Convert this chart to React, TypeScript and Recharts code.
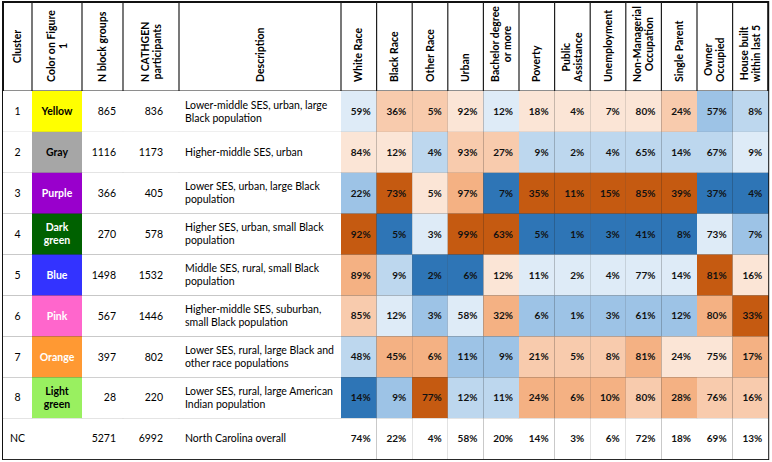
import React from 'react';
import { ScatterChart, Scatter, XAxis, YAxis, ReferenceLine, ReferenceArea } from 'recharts';

/* ── Data ─────────────────────────────────────────────────────────────────── */

const clusters = ['1', '2', '3', '4', '5', '6', '7', '8', 'NC'];
const figureColors = ['Yellow', 'Gray', 'Purple', 'Dark green', 'Blue', 'Pink', 'Orange', 'Light green', ''];
const nBlockGroups = [865, 1116, 366, 270, 1498, 567, 397, 28, 5271];
const nParticipants = [836, 1173, 405, 578, 1532, 1446, 802, 220, 6992];
const descriptions = [
  'Lower-middle SES, urban, large\nBlack population',
  'Higher-middle SES, urban',
  'Lower SES, urban, large Black\npopulation',
  'Higher SES, urban, small Black\npopulation',
  'Middle SES, rural, small Black\npopulation',
  'Higher-middle SES, suburban,\nsmall Black population',
  'Lower SES, rural, large Black and\nother race populations',
  'Lower SES, rural, large American\nIndian population',
  'North Carolina overall',
];

const infoHeaders = ['Cluster', 'Color on Figure\n1', 'N block groups', 'N CATHGEN\nparticipants', 'Description'];
const variableHeaders = [
  'White Race', 'Black Race', 'Other Race', 'Urban', 'Bachelor degree\nor more', 'Poverty',
  'Public\nAssistance', 'Unemployment', 'Non-Managerial\nOccupation', 'Single Parent',
  'Owner\nOccupied', 'House built\nwithin last 5',
];

// percentages, rows 1..8 then NC
const whiteRace = [59, 84, 22, 92, 89, 85, 48, 14, 74];
const blackRace = [36, 12, 73, 5, 9, 12, 45, 9, 22];
const otherRace = [5, 4, 5, 3, 2, 3, 6, 77, 4];
const urban = [92, 93, 97, 99, 6, 58, 11, 12, 58];
const bachelor = [12, 27, 7, 63, 12, 32, 9, 11, 20];
const poverty = [18, 9, 35, 5, 11, 6, 21, 24, 14];
const publicAssistance = [4, 2, 11, 1, 2, 1, 5, 6, 3];
const unemployment = [7, 4, 15, 3, 4, 3, 8, 10, 6];
const nonManagerial = [80, 65, 85, 41, 77, 61, 81, 80, 72];
const singleParent = [24, 14, 39, 8, 14, 12, 24, 28, 18];
const ownerOccupied = [57, 67, 37, 73, 81, 80, 75, 76, 69];
const houseBuilt = [8, 9, 4, 7, 16, 33, 17, 16, 13];

// shading rank of each cluster within a column (-4 lowest … +4 highest, 0 = none)
const whiteShade = [-1, 1, -3, 4, 3, 2, -2, -4, 0];
const blackShade = [2, 1, 4, -4, -2, -1, 3, -3, 0];
const otherShade = [2, -2, 1, -1, -4, -3, 3, 4, 0];
const urbanShade = [1, 2, 3, 4, -4, -1, -3, -2, 0];
const bachelorShade = [-1, 2, -4, 4, 1, 3, -3, -2, 0];
const povertyShade = [1, -2, 4, -4, -1, -3, 2, 3, 0];
const publicShade = [1, -2, 4, -4, -1, -3, 2, 3, 0];
const unemploymentShade = [1, -2, 4, -4, -1, -3, 2, 3, 0];
const nonManagerialShade = [1, -2, 4, -4, -1, -3, 3, 2, 0];
const singleParentShade = [2, -2, 4, -4, -1, -3, 1, 3, 0];
const ownerShade = [-3, -2, -4, -1, 4, 3, 1, 2, 0];
const houseShade = [-2, -1, -4, -3, 1, 4, 3, 2, 0];

const variableValues = [
  whiteRace, blackRace, otherRace, urban, bachelor, poverty,
  publicAssistance, unemployment, nonManagerial, singleParent, ownerOccupied, houseBuilt,
];
const variableShades = [
  whiteShade, blackShade, otherShade, urbanShade, bachelorShade, povertyShade,
  publicShade, unemploymentShade, nonManagerialShade, singleParentShade, ownerShade, houseShade,
];

/* ── Styles / layout ──────────────────────────────────────────────────────── */

const W = 772;
const H = 462;
const FONT = 'Lato, "Open Sans", sans-serif';
const GRID = '#1f1f1f';

const SHADE_FILL: Record<number, string> = {
  [-4]: '#2e75b6', [-3]: '#9dc3e6', [-2]: '#bdd7ee', [-1]: '#deebf7',
  0: '#ffffff', 1: '#fbe5d6', 2: '#f8cbad', 3: '#f4b183', 4: '#c55a11',
};

const SWATCH: Record<string, { fill: string; text: string }> = {
  Yellow: { fill: '#ffff00', text: '#000000' },
  Gray: { fill: '#a6a6a6', text: '#000000' },
  Purple: { fill: '#9900cc', text: '#ffffff' },
  'Dark green': { fill: '#006100', text: '#ffffff' },
  Blue: { fill: '#3333ff', text: '#ffffff' },
  Pink: { fill: '#ff66cc', text: '#ffffff' },
  Orange: { fill: '#ff9933', text: '#ffffff' },
  'Light green': { fill: '#99f060', text: '#000000' },
};

const INFO_EDGES = [3, 32, 82, 123, 179, 341];
const HEAT_LEFT = 341;
const HEAT_W = 35.6;
const COL_EDGES = [...INFO_EDGES, ...variableHeaders.map((_, i) => HEAT_LEFT + (i + 1) * HEAT_W)];
const HEADER_TOP = 2;
const HEADER_BOTTOM = 91;
const ROW_H = 40.9;
const ROW_EDGES = [HEADER_TOP, HEADER_BOTTOM, ...clusters.map((_, i) => HEADER_BOTTOM + (i + 1) * ROW_H)];
const TABLE_RIGHT = COL_EDGES[COL_EDGES.length - 1];
const TABLE_BOTTOM = ROW_EDGES[ROW_EDGES.length - 1];

let measureCtx: CanvasRenderingContext2D | null = null;
function textWidth(s: string, font: string) {
  if (!measureCtx) measureCtx = document.createElement('canvas').getContext('2d');
  if (!measureCtx) return s.length * 6;
  measureCtx.font = font;
  return measureCtx.measureText(s).width;
}

type CellDatum = {
  x: number;
  y: number;
  w: number;
  h: number;
  kind: 'header' | 'text';
  lines: string[];
  fill: string;
  color: string;
  bold: boolean;
  size: number;
  align: 'start' | 'middle' | 'end';
  pad: number;
  anchor?: 'bottom' | 'center';
};

function cellBox(col: number, row: number) {
  const x0 = COL_EDGES[col];
  const x1 = COL_EDGES[col + 1];
  const y0 = ROW_EDGES[row];
  const y1 = ROW_EDGES[row + 1];
  return { x: (x0 + x1) / 2, y: (y0 + y1) / 2, w: x1 - x0, h: y1 - y0 };
}

const cells: CellDatum[] = [];

[...infoHeaders, ...variableHeaders].forEach((label, c) => {
  cells.push({
    ...cellBox(c, 0), kind: 'header', lines: label.split('\n'), fill: '#ffffff', color: '#000000',
    bold: true, size: 10.5, align: 'middle', pad: 0, anchor: c === 0 ? 'center' : 'bottom',
  });
});

clusters.forEach((cl, r) => {
  const row = r + 1;
  const base = { kind: 'text' as const, color: '#000000', fill: '#ffffff', bold: false, size: 10.5 };
  cells.push({ ...cellBox(0, row), ...base, lines: [cl], align: 'middle', pad: 0 });
  const sw = SWATCH[figureColors[r]];
  cells.push({
    ...cellBox(1, row), ...base, lines: figureColors[r] ? figureColors[r].split(' ') : [],
    fill: sw ? sw.fill : '#ffffff', color: sw ? sw.text : '#000000', bold: true, align: 'middle', pad: 0,
  });
  cells.push({ ...cellBox(2, row), ...base, lines: [String(nBlockGroups[r])], align: 'end', pad: 7 });
  cells.push({ ...cellBox(3, row), ...base, lines: [String(nParticipants[r])], align: 'end', pad: 16 });
  cells.push({ ...cellBox(4, row), ...base, lines: descriptions[r].split('\n'), align: 'start', pad: 6 });
  variableValues.forEach((vals, v) => {
    cells.push({
      ...cellBox(5 + v, row), ...base, lines: [`${vals[r]}%`], fill: SHADE_FILL[variableShades[v][r]],
      color: '#111111', bold: true, size: 10, align: 'end', pad: 6,
    });
  });
});

/* ── Cell shape ───────────────────────────────────────────────────────────── */

function TableCell(props: any) {
  const { cx, cy, payload } = props;
  const d = payload as CellDatum;
  const x0 = cx - d.w / 2;
  const y0 = cy - d.h / 2;
  const font = `${d.bold ? 'bold ' : ''}${d.size}px ${FONT}`;

  if (d.kind === 'header') {
    const lineH = 12;
    const longest = Math.max(...d.lines.map((l) => textWidth(l, font)));
    const ay = d.anchor === 'center' ? cy : y0 + d.h - 9 - longest / 2;
    return (
      <g transform={`translate(${cx},${ay}) rotate(-90)`}>
        <text textAnchor="middle" fontFamily={FONT} fontSize={d.size} fontWeight="bold" fill={d.color}>
          {d.lines.map((l, i) => (
            <tspan key={i} x={0} y={(i - (d.lines.length - 1) / 2) * lineH + d.size * 0.35}>
              {l}
            </tspan>
          ))}
        </text>
      </g>
    );
  }

  const lineH = 13;
  const tx = d.align === 'start' ? x0 + d.pad : d.align === 'end' ? x0 + d.w - d.pad : cx;
  return (
    <g>
      <rect x={x0} y={y0} width={d.w} height={d.h} fill={d.fill} />
      <text
        textAnchor={d.align}
        fontFamily={FONT}
        fontSize={d.size}
        fontWeight={d.bold ? 'bold' : 'normal'}
        fill={d.color}
      >
        {d.lines.map((l, i) => (
          <tspan key={i} x={tx} y={cy + (i - (d.lines.length - 1) / 2) * lineH + d.size * 0.35}>
            {l}
          </tspan>
        ))}
      </text>
    </g>
  );
}

/* ── Component ────────────────────────────────────────────────────────────── */

export default function App() {
  return (
    <div style={{ width: W, height: H, background: '#ffffff' }}>
      <style>{'body{margin:0}'}</style>
      <ScatterChart width={W} height={H} margin={{ top: 0, right: 0, bottom: 0, left: 0 }}>
        <XAxis type="number" dataKey="x" domain={[0, W]} hide allowDataOverflow />
        <YAxis type="number" dataKey="y" domain={[0, H]} hide reversed allowDataOverflow />
        <Scatter data={cells} shape={TableCell} isAnimationActive={false} />
        {COL_EDGES.slice(1, -1).map((x) => (
          <ReferenceLine
            key={`c${x}`}
            segment={[{ x, y: HEADER_TOP }, { x, y: TABLE_BOTTOM }]}
            stroke={GRID}
            strokeWidth={1.2}
          />
        ))}
        {ROW_EDGES.slice(1, -1).map((y) => (
          <ReferenceLine
            key={`r${y}`}
            segment={[{ x: COL_EDGES[0], y }, { x: TABLE_RIGHT, y }]}
            stroke={GRID}
            strokeWidth={1.2}
          />
        ))}
        <ReferenceArea
          x1={COL_EDGES[0]}
          x2={TABLE_RIGHT}
          y1={HEADER_TOP}
          y2={TABLE_BOTTOM}
          fill="none"
          fillOpacity={0}
          stroke="#111111"
          strokeWidth={2}
        />
      </ScatterChart>
    </div>
  );
}
